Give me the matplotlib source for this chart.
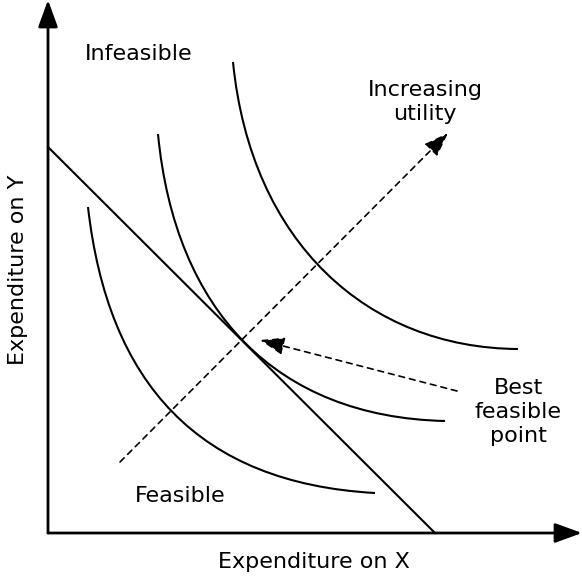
import matplotlib.pyplot as plt
from matplotlib.patches import FancyArrowPatch, PathPatch
from matplotlib.path import Path

# ---- diagram data (units measured from the origin, y upwards) ----
# budget line intercepts
budget_x = [0, 387]
budget_y = [386, 0]

# indifference curves, low -> high utility (cubic Bezier: start, ctrl1, ctrl2, end)
curve1_x = [40, 60, 150, 327]
curve1_y = [326, 150, 50, 40]

curve2_x = [110, 127, 228, 397]
curve2_y = [399, 222, 116, 112]

curve3_x = [185, 203, 320, 470]
curve3_y = [471, 290, 185, 184]

# annotation arrows (start, end)
utility_arrow = [(72, 71), (400, 400)]
best_arrow = [(409, 142), (212, 193)]

# labels: text, position
labels = [
    ("Infeasible", (91, 479)),
    ("Increasing\nutility", (377, 431)),
    ("Best\nfeasible\npoint", (470, 121)),
    ("Feasible", (132, 37)),
]

fig = plt.figure(figsize=(5.82, 5.79), dpi=100)
ax = fig.add_axes([0, 0, 1, 1])
ax.set_xlim(-48, 534)
ax.set_ylim(-46, 533)
ax.axis('off')

# axes with arrow heads
for tip in [(0, 533), (534, 0)]:
    ax.add_patch(FancyArrowPatch((0, 0), tip, arrowstyle='-|>,head_length=0.55,head_width=0.2',
                                 mutation_scale=30, lw=2, color='black',
                                 shrinkA=0, shrinkB=0))

ax.plot(budget_x, budget_y, color='black', lw=1.5)

codes = [Path.MOVETO, Path.CURVE4, Path.CURVE4, Path.CURVE4]
for cx, cy in [(curve1_x, curve1_y), (curve2_x, curve2_y), (curve3_x, curve3_y)]:
    path = Path(list(zip(cx, cy)), codes)
    ax.add_patch(PathPatch(path, fill=False, edgecolor='black', lw=1.5))

for start, end in [utility_arrow, best_arrow]:
    ax.add_patch(FancyArrowPatch(start, end, arrowstyle='-|>,head_length=0.75,head_width=0.27',
                                 mutation_scale=20, lw=1.2, color='black',
                                 linestyle=(0, (3.5, 3)), shrinkA=0, shrinkB=0))

for txt, (x, y) in labels:
    ax.text(x, y, txt, ha='center', va='center', fontsize=16, linespacing=1.22)

ax.text(266, -29, "Expenditure on X", ha='center', va='center', fontsize=16)
ax.text(-30, 263, "Expenditure on Y", ha='center', va='center', fontsize=16, rotation=90)

fig.savefig("out.png", dpi=100)
